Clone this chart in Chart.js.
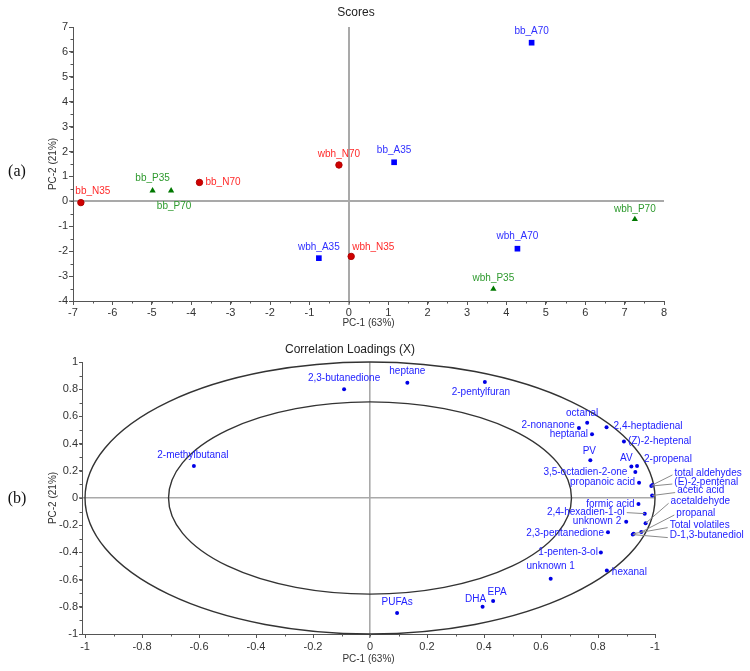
<!DOCTYPE html>
<html>
<head>
<meta charset="utf-8">
<script src="https://cdn.jsdelivr.net/npm/chart.js@4.4.1/dist/chart.umd.min.js"></script>
<style>
  html, body { margin: 0; padding: 0; background: #fff; }
  #wrap { position: relative; width: 750px; height: 671px; }
  #wrap canvas { position: absolute; left: 0; }
  #scores { top: 0; }
  #loadings { top: 335px; }
</style>
</head>
<body>
<div id="wrap">
  <canvas id="scores" width="750" height="335"></canvas>
  <canvas id="loadings" width="750" height="336"></canvas>
</div>
<script>
// ---- scores (panel a) ----
var nNames = ['bb_N35', 'bb_N70', 'wbh_N70', 'wbh_N35'];
var nX = [-6.80, -3.79, -0.25, 0.06];
var nY = [-0.05, 0.76, 1.46, -2.21];

var aNames = ['bb_A35', 'bb_A70', 'wbh_A35', 'wbh_A70'];
var aX = [1.15, 4.64, -0.76, 4.28];
var aY = [1.57, 6.37, -2.28, -1.90];

var pNames = ['bb_P35', 'bb_P70', 'wbh_P35', 'wbh_P70'];
var pX = [-4.98, -4.51, 3.67, 7.26];
var pY = [0.43, 0.43, -3.52, -0.72];

var xTicksA = [-7, -6, -5, -4, -3, -2, -1, 0, 1, 2, 3, 4, 5, 6, 7, 8];
var xTickLabelsA = ['-7', '-6', '-5', '-4', '-3', '-2', '-1', '0', '1', '2', '3', '4', '5', '6', '7', '8'];
var yTicksA = [-4, -3, -2, -1, 0, 1, 2, 3, 4, 5, 6, 7];
var yTickLabelsA = ['-4', '-3', '-2', '-1', '0', '1', '2', '3', '4', '5', '6', '7'];

// ---- correlation loadings (panel b) ----
var loadNames = ['2,3-butanedione', 'heptane', '2-pentylfuran', '2-methylbutanal',
  'octanal', '2-nonanone', 'heptanal', '2,4-heptadienal', '(Z)-2-heptenal', 'PV', 'AV',
  '2-propenal', '3,5-octadien-2-one', 'propanoic acid', 'total aldehydes', '(E)-2-pentenal',
  'acetic acid', 'formic acid', '2,4-hexadien-1-ol', 'unknown 2', 'acetaldehyde', 'propanal',
  'Total volatiles', 'D-1,3-butanediol', '2,3-pentanedione', '1-penten-3-ol', 'unknown 1',
  'hexanal', 'EPA', 'DHA', 'PUFAs'];
var loadX = [-0.091, 0.131, 0.403, -0.618,
  0.762, 0.733, 0.779, 0.830, 0.891, 0.773, 0.917,
  0.937, 0.931, 0.944, 0.991, 0.987,
  0.990, 0.942, 0.964, 0.899, 0.967, 0.952,
  0.925, 0.922, 0.835, 0.810, 0.634,
  0.831, 0.432, 0.395, 0.095];
var loadY = [0.800, 0.848, 0.853, 0.235,
  0.554, 0.515, 0.468, 0.520, 0.415, 0.277, 0.231,
  0.235, 0.191, 0.113, 0.096, 0.088,
  0.018, -0.044, -0.115, -0.174, -0.186, -0.250,
  -0.262, -0.269, -0.252, -0.400, -0.593,
  -0.534, -0.757, -0.800, -0.846];

var xTicksB = [-1, -0.8, -0.6, -0.4, -0.2, 0, 0.2, 0.4, 0.6, 0.8, 1];
var xTickLabelsB = ['-1', '-0.8', '-0.6', '-0.4', '-0.2', '0', '0.2', '0.4', '0.6', '0.8', '-1'];
var yTicksB = [-1, -0.8, -0.6, -0.4, -0.2, 0, 0.2, 0.4, 0.6, 0.8, 1];
var yTickLabelsB = ['-1', '-0.8', '-0.6', '-0.4', '-0.2', '0', '0.2', '0.4', '0.6', '0.8', '1'];
var rings = [1, 0.707];

// label placement: [dx, dy, align, leader line]
var placeA = {
  'bb_N35': [12, -11, 'center'], 'bb_N70': [6, 0, 'left'], 'wbh_N70': [0, -11, 'center'],
  'wbh_N35': [1, -9, 'left'], 'bb_A35': [0, -12, 'center'], 'bb_A70': [0, -11, 'center'],
  'wbh_A35': [0, -11, 'center'], 'wbh_A70': [0, -12, 'center'], 'bb_P35': [0, -12, 'center'],
  'bb_P70': [3, 16, 'center'], 'wbh_P35': [0, -11, 'center'], 'wbh_P70': [0, -10, 'center']
};
var placeB = {
  '2,3-butanedione': [0, -11, 'center'], 'heptane': [0, -11, 'center'],
  '2-pentylfuran': [-4, 10, 'center'], '2-methylbutanal': [-1, -11, 'center'],
  'octanal': [-5, -9, 'center'], '2-nonanone': [-4, -3, 'right'], 'heptanal': [-4, 0, 'right'],
  '2,4-heptadienal': [7, -1, 'left'], '(Z)-2-heptenal': [4, 0, 'left'], 'PV': [-1, -9, 'center'],
  'AV': [-5, -8, 'center'], '2-propenal': [7, -7, 'left'], '3,5-octadien-2-one': [-8, 0, 'right'],
  'propanoic acid': [-4, 0, 'right'], 'total aldehydes': [22, -12, 'left', true],
  '(E)-2-pentenal': [23, -4, 'left', true], 'acetic acid': [25, -5, 'left', true],
  'formic acid': [-4, 0, 'right'], '2,4-hexadien-1-ol': [-20, -1, 'right', true],
  'unknown 2': [-5, 0, 'right'], 'acetaldehyde': [25, -22, 'left', true],
  'propanal': [35, -19, 'left', true], 'Total volatiles': [36, -8, 'left', true],
  'D-1,3-butanediol': [37, 1, 'left', true], '2,3-pentanedione': [-4, 1, 'right'],
  '1-penten-3-ol': [-3, 0, 'right'], 'unknown 1': [0, -12, 'center'], 'hexanal': [5, 2, 'left'],
  'EPA': [4, -9, 'center'], 'DHA': [-7, -8, 'center'], 'PUFAs': [0, -11, 'center']
};

var FONT = "'Liberation Sans', Arial, sans-serif";

function pts(xs, ys) {
  return xs.map(function (x, i) { return { x: x, y: ys[i] }; });
}

var decor = {
  id: 'decor',
  beforeDatasetsDraw: function (chart, args, o) {
    var ctx = chart.ctx, sx = chart.scales.x, sy = chart.scales.y;
    var cx = sx.getPixelForValue(0), cy = sy.getPixelForValue(0);
    (o.rings || []).forEach(function (r) {
      ctx.save();
      ctx.beginPath();
      ctx.ellipse(cx, cy, sx.getPixelForValue(r) - cx, cy - sy.getPixelForValue(r), 0, 0, 2 * Math.PI);
      ctx.strokeStyle = '#333';
      ctx.lineWidth = 1.4;
      ctx.stroke();
      ctx.restore();
    });
  },
  afterDraw: function (chart, args, o) {
    var ctx = chart.ctx, area = chart.chartArea;
    var sx = chart.scales.x, sy = chart.scales.y;
    ctx.save();

    // minor ticks
    ctx.strokeStyle = '#555';
    ctx.lineWidth = 1;
    var k, p;
    for (k = Math.ceil(sx.min / o.minorX - 1e-6); k <= Math.floor(sx.max / o.minorX + 1e-6); k++) {
      p = Math.round(sx.getPixelForValue(k * o.minorX)) + 0.5;
      ctx.beginPath(); ctx.moveTo(p, area.bottom); ctx.lineTo(p, area.bottom + 2.5); ctx.stroke();
    }
    for (k = Math.ceil(sy.min / o.minorY - 1e-6); k <= Math.floor(sy.max / o.minorY + 1e-6); k++) {
      p = Math.round(sy.getPixelForValue(k * o.minorY)) + 0.5;
      ctx.beginPath(); ctx.moveTo(area.left, p); ctx.lineTo(area.left - 2.5, p); ctx.stroke();
    }

    // point labels
    ctx.font = '10px ' + FONT;
    ctx.textBaseline = 'middle';
    chart.data.datasets.forEach(function (ds, di) {
      var meta = chart.getDatasetMeta(di);
      meta.data.forEach(function (el, i) {
        var name = ds.names[i];
        var pl = o.place[name] || [0, -11, 'center'];
        var lx = el.x + pl[0], ly = el.y + pl[1];
        if (pl[3]) {
          ctx.strokeStyle = '#8a8a8a';
          ctx.lineWidth = 1;
          ctx.beginPath();
          if (pl[2] === 'left') ctx.moveTo(lx - 2, ly + 2);
          else ctx.moveTo(lx + 2, ly);
          ctx.lineTo(el.x, el.y);
          ctx.stroke();
        }
        ctx.fillStyle = ds.labelColor;
        ctx.textAlign = pl[2];
        ctx.fillText(name, lx, ly);
      });
    });

    // titles
    ctx.fillStyle = '#222';
    ctx.textAlign = 'center';
    ctx.font = '12px ' + FONT;
    ctx.fillText(o.title, o.titleX, o.titleY);
    ctx.font = '10px ' + FONT;
    ctx.fillStyle = '#333';
    ctx.fillText(o.xTitle, (area.left + area.right) / 2, area.bottom + o.xTitleGap);
    ctx.save();
    ctx.translate(53, (area.top + area.bottom) / 2);
    ctx.rotate(-Math.PI / 2);
    ctx.fillText(o.yTitle, 0, 0);
    ctx.restore();

    // panel letter
    ctx.font = "16px 'Liberation Serif', 'Times New Roman', serif";
    ctx.fillStyle = '#111';
    ctx.fillText(o.panel, 17, o.panelY);
    ctx.restore();
  }
};

function axis(vals, labels, min, max, fit) {
  return {
    type: 'linear',
    min: min,
    max: max,
    afterBuildTicks: function (s) { s.ticks = vals.map(function (v) { return { value: v }; }); },
    afterFit: fit,
    border: { color: '#555', width: 1 },
    grid: {
      color: function (c) { return c.tick && c.tick.value === 0 ? '#a9a9a9' : 'rgba(0,0,0,0)'; },
      lineWidth: function (c) { return c.tick && c.tick.value === 0 ? 2 : 1; },
      tickColor: '#555',
      tickWidth: 1,
      tickLength: 4
    },
    ticks: {
      autoSkip: false,
      maxRotation: 0,
      padding: 1,
      color: '#333',
      font: { family: FONT, size: 11 },
      callback: function (v, i) { return labels[i]; }
    }
  };
}

new Chart(document.getElementById('scores'), {
  type: 'scatter',
  data: {
    datasets: [
      { names: nNames, labelColor: '#ff2a2a', data: pts(nX, nY), pointStyle: 'circle',
        pointRadius: 3.2, backgroundColor: '#d00000', borderColor: '#b00000', borderWidth: 1 },
      { names: aNames, labelColor: '#2f2fff', data: pts(aX, aY), pointStyle: 'rect',
        pointRadius: 4, backgroundColor: '#0000ff', borderColor: '#0000ff', borderWidth: 0 },
      { names: pNames, labelColor: '#2e9a2e', data: pts(pX, pY), pointStyle: 'triangle',
        pointRadius: 3.6, backgroundColor: '#007800', borderColor: '#007800', borderWidth: 0 }
    ]
  },
  options: {
    responsive: false,
    animation: false,
    layout: { padding: { top: 27, right: 86, bottom: 0, left: 0 } },
    plugins: {
      legend: { display: false },
      tooltip: { enabled: false },
      decor: { place: placeA, minorX: 0.5, minorY: 0.5, title: 'Scores', titleX: 356, titleY: 13,
        xTitle: 'PC-1 (63%)', xTitleGap: 22, yTitle: 'PC-2 (21%)', panel: '(a)', panelY: 172 }
    },
    scales: {
      x: axis(xTicksA, xTickLabelsA, -7, 8, function (s) { s.height = 34; }),
      y: axis(yTicksA, yTickLabelsA, -4, 7, function (s) { s.width = 73; })
    }
  },
  plugins: [decor]
});

var scaleB = {
  x: axis(xTicksB, xTickLabelsB, -1.0106, 1, function (s) { s.height = 37; }),
  y: axis(yTicksB, yTickLabelsB, -1, 1, function (s) { s.width = 82; })
};
scaleB.x.ticks.padding = 2;
scaleB.y.grid.tickLength = 3;
scaleB.x.grid.lineWidth = function (c) { return c.tick && c.tick.value === 0 ? 1.6 : 1; };
scaleB.y.grid.lineWidth = scaleB.x.grid.lineWidth;

new Chart(document.getElementById('loadings'), {
  type: 'scatter',
  data: {
    datasets: [
      { names: loadNames, labelColor: '#2222ff', data: pts(loadX, loadY), pointStyle: 'circle',
        pointRadius: 2, backgroundColor: '#0000e6', borderColor: '#0000e6', borderWidth: 0 }
    ]
  },
  options: {
    responsive: false,
    animation: false,
    layout: { padding: { top: 27, right: 95, bottom: 0, left: 0 } },
    plugins: {
      legend: { display: false },
      tooltip: { enabled: false },
      decor: { rings: rings, place: placeB, minorX: 0.1, minorY: 0.1,
        title: 'Correlation Loadings (X)', titleX: 350, titleY: 15,
        xTitle: 'PC-1 (63%)', xTitleGap: 25, yTitle: 'PC-2 (21%)', panel: '(b)', panelY: 164 }
    },
    scales: scaleB
  },
  plugins: [decor]
});
</script>
</body>
</html>
